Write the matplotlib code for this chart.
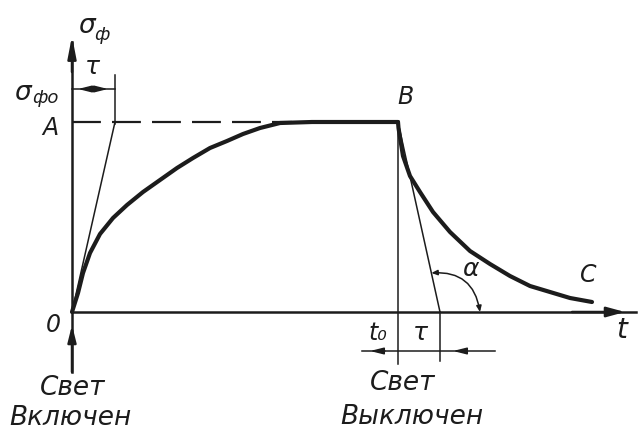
import numpy as np
import matplotlib.pyplot as plt
from matplotlib.patches import FancyArrowPatch

# photoconductivity rise after light on / decay after light off
rise_t = [0.0, 0.6, 1.1, 1.8, 2.8, 4.1, 5.5, 7.1, 8.8, 10.5, 12.1, 13.8,
          15.5, 17.1, 18.8, 20.8, 24.0, 32.6]
rise_s = [0.0, 1.9, 3.9, 5.9, 7.8, 9.4, 10.7, 12.0, 13.2, 14.4, 15.4, 16.4,
          17.1, 17.8, 18.4, 18.9, 19.0, 19.0]
decay_t = [32.6, 32.65, 33.1, 33.8, 34.8, 36.1, 37.8, 39.8, 41.8, 43.8,
           45.8, 47.8, 49.8, 52.0]
decay_s = [19.0, 18.4, 15.6, 13.6, 12.0, 10.0, 8.0, 6.1, 4.8, 3.6,
           2.6, 2.0, 1.4, 1.0]

level_A = 19.0      # steady state
level_s0 = 22.3     # height of the tau mark
t0 = 32.6           # light switched off
tau_rise = 4.3
tau_decay = 4.2

ink = '#1c1c1c'
fam = ['Liberation Sans Narrow', 'DejaVu Sans']

fig = plt.figure(figsize=(6.38, 4.35), dpi=100)
ax = fig.add_axes([0, 0, 1, 1])
ax.set_xlim(-7.2, 56.6)
ax.set_ylim(-12.2, 31.3)
ax.axis('off')

def arrow(x0, y0, x1, y1, hl=1.0, hw=0.35, lw=1.6):
    ax.annotate('', xy=(x1, y1), xytext=(x0, y0),
                arrowprops=dict(arrowstyle=f'-|>,head_length={hl},head_width={hw}',
                                color=ink, lw=lw, shrinkA=0, shrinkB=0))

# axes
ax.plot([0, 56.4], [0, 0], color=ink, lw=1.8)
arrow(50, 0, 55.3, 0, hl=1.1, hw=0.3, lw=1.8)
ax.plot([0, 0], [-6.0, 27.0], color=ink, lw=1.8)
arrow(0, 24, 0, 27.6, hl=1.3, hw=0.25, lw=1.8)
arrow(0, -6.0, 0, -1.3, hl=1.0, hw=0.25, lw=1.8)

# curves
curve = dict(color=ink, lw=3.0, solid_capstyle='round', solid_joinstyle='round')
ax.plot(rise_t, rise_s, **curve)
ax.plot(decay_t, decay_s, **curve)

# steady-state dashed level
ax.plot([0, 22.0], [level_A, level_A], color=ink, lw=1.6, dashes=(13, 5))

# tangents and tau marks
ax.plot([0, tau_rise], [0, level_A], color=ink, lw=1.1)
ax.plot([tau_rise, tau_rise], [level_A - 0.2, level_s0 + 1.4], color=ink, lw=1.1)
ax.plot([0, tau_rise], [level_s0, level_s0], color=ink, lw=1.1)
arrow(2.1, level_s0, 0.6, level_s0, hl=0.8, hw=0.2, lw=1.1)
arrow(2.1, level_s0, 3.6, level_s0, hl=0.8, hw=0.2, lw=1.1)

ax.plot([t0, t0 + tau_decay], [level_A, 0], color=ink, lw=1.1)
ax.plot([t0, t0], [-5.2, level_A], color=ink, lw=1.1)
ax.plot([t0 + tau_decay, t0 + tau_decay], [-4.9, 0], color=ink, lw=1.1)
ax.plot([29.0, 42.3], [-3.9, -3.9], color=ink, lw=1.1)
arrow(31.3, -3.9, 29.8, -3.9, hl=0.8, hw=0.2, lw=1.1)
arrow(39.5, -3.9, 38.1, -3.9, hl=0.8, hw=0.2, lw=1.1)

# angle of the decay tangent
r = 4.0
ang = np.arctan2(level_A, -tau_decay)
p0 = (t0 + tau_decay + r * np.cos(ang), r * np.sin(ang))
p1 = (t0 + tau_decay + r, 0.0)
ax.add_patch(FancyArrowPatch(p0, p1, connectionstyle='arc3,rad=-0.45',
                             arrowstyle='<|-|>,head_length=3.5,head_width=1.5',
                             color=ink, lw=1.1, shrinkA=0, shrinkB=0))

# labels
def label(x, y, s, size=17):
    ax.text(x, y, s, fontsize=size, style='italic', family=fam, color=ink,
            ha='center', va='center')

label(1.5, 28.7, 'σ', 19)
label(3.0, 27.8, 'ф', 13)
label(-4.9, 22.0, 'σ', 19)
label(-2.7, 21.5, 'фо', 13)
label(2.0, 24.6, 'τ', 18)
label(-2.2, 18.5, 'A')
label(33.3, 21.6, 'B')
label(51.6, 3.8, 'C')
label(-1.9, -1.2, '0')
label(55.0, -1.7, 't', 20)
label(30.6, -2.0, 't₀', 17)
label(34.8, -2.0, 'τ', 18)
label(39.9, 4.4, 'α', 18)
label(0.1, -7.5, 'Свет', 19)
label(-0.2, -10.5, 'Включен', 19)
label(33.1, -7.0, 'Свет', 19)
label(34.0, -10.4, 'Выключен', 19)

fig.savefig('out.png', dpi=100, facecolor='white')
